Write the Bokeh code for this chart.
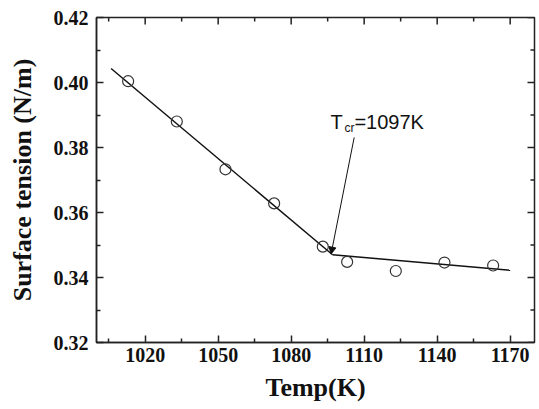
import math
from bokeh.plotting import figure
from bokeh.models import (Range1d, FixedTicker, PrintfTickFormatter,
                          Label, Arrow, NormalHead)
from bokeh.embed import file_html
from bokeh.resources import INLINE

# measured data
temp = [1013, 1033, 1053, 1073, 1093, 1103, 1123, 1143, 1163]
tension = [0.4004, 0.3880, 0.3733, 0.3628, 0.3495, 0.3448, 0.3420, 0.3446, 0.3437]

# fitted piecewise line
fit1_x = [1006, 1097]
fit1_y = [0.4043, 0.3470]
fit2_x = [1097, 1170]
fit2_y = [0.3470, 0.3422]

x_lim = (1000, 1180)
y_lim = (0.32, 0.42)
x_ticks = [1020, 1050, 1080, 1110, 1140, 1170]
x_minor = [1005, 1035, 1065, 1095, 1125, 1155]
y_ticks = [0.32, 0.34, 0.36, 0.38, 0.40, 0.42]
y_minor = [0.33, 0.35, 0.37, 0.39, 0.41]

t_cr = 1097
arrow_start = (1105.9, 0.3831)
arrow_end = (1096.4, 0.3472)

SERIF = "Liberation Serif"
SANS = "Liberation Sans"
INK = "#222222"

p = figure(width=536, height=408, output_backend="svg", toolbar_location=None,
           x_range=Range1d(*x_lim), y_range=Range1d(*y_lim),
           min_border_left=96, min_border_right=2, min_border_top=17, min_border_bottom=66)
p.xgrid.visible = False
p.ygrid.visible = False
p.outline_line_color = INK
p.outline_line_width = 1.5
p.background_fill_color = "white"
p.border_fill_color = "white"


def style(ax, ticker):
    ax.ticker = ticker
    ax.major_tick_in = 7
    ax.major_tick_out = 0
    ax.minor_tick_in = 4
    ax.minor_tick_out = 0
    ax.axis_line_color = INK
    ax.axis_line_width = 1.5
    ax.major_tick_line_color = INK
    ax.major_tick_line_width = 1.5
    ax.minor_tick_line_color = INK
    ax.minor_tick_line_width = 1.5
    ax.major_label_text_font = SERIF
    ax.major_label_text_font_style = "bold"
    ax.major_label_text_font_size = "20px"
    ax.major_label_text_color = "#111111"
    ax.axis_label_text_font = SERIF
    ax.axis_label_text_font_style = "bold"
    ax.axis_label_text_font_size = "26px"
    ax.axis_label_text_color = "#111111"


xa = p.xaxis[0]
style(xa, FixedTicker(ticks=x_ticks, minor_ticks=x_minor))
xa.axis_label = "Temp(K)"
xa.major_label_standoff = 5
xa.axis_label_standoff = 8

ya = p.yaxis[0]
style(ya, FixedTicker(ticks=y_ticks, minor_ticks=y_minor))
ya.axis_label = "Surface tension (N/m)"
ya.formatter = PrintfTickFormatter(format="%.2f")
ya.major_label_standoff = 8
ya.axis_label_standoff = 14

# mirrored inward ticks on top and right edges (dash markers clipped by the frame)
p.scatter(x_ticks, [y_lim[1]] * len(x_ticks), marker="dash", angle=math.pi / 2,
          size=14, line_color=INK, line_width=1.5)
p.scatter(x_minor, [y_lim[1]] * len(x_minor), marker="dash", angle=math.pi / 2,
          size=8, line_color=INK, line_width=1.5)
p.scatter([x_lim[1]] * len(y_ticks), y_ticks, marker="dash",
          size=14, line_color=INK, line_width=1.5)
p.scatter([x_lim[1]] * len(y_minor), y_minor, marker="dash",
          size=8, line_color=INK, line_width=1.5)

p.line(fit1_x, fit1_y, line_color="#111111", line_width=1.5)
p.line(fit2_x, fit2_y, line_color="#111111", line_width=1.5)
p.scatter(temp, tension, marker="circle", size=11, fill_color=None,
          line_color="#333333", line_width=1.2)

p.add_layout(Arrow(end=NormalHead(size=7, fill_color="#111111", line_color="#111111", line_width=1),
                   x_start=arrow_start[0], y_start=arrow_start[1],
                   x_end=arrow_end[0], y_end=arrow_end[1],
                   line_color="#111111", line_width=1))

p.add_layout(Label(x=1096.2, y=0.3878, text="T", text_font=SANS, text_font_size="20px",
                   text_color="#111111", text_baseline="alphabetic"))
p.add_layout(Label(x=1101.9, y=0.3859, text="cr", text_font=SANS, text_font_size="12px",
                   text_color="#111111", text_baseline="alphabetic"))
p.add_layout(Label(x=1106.0, y=0.3878, text="=%dK" % t_cr, text_font=SANS, text_font_size="20px",
                   text_color="#111111", text_baseline="alphabetic"))

open("out.html", "w").write(file_html(p, INLINE))
